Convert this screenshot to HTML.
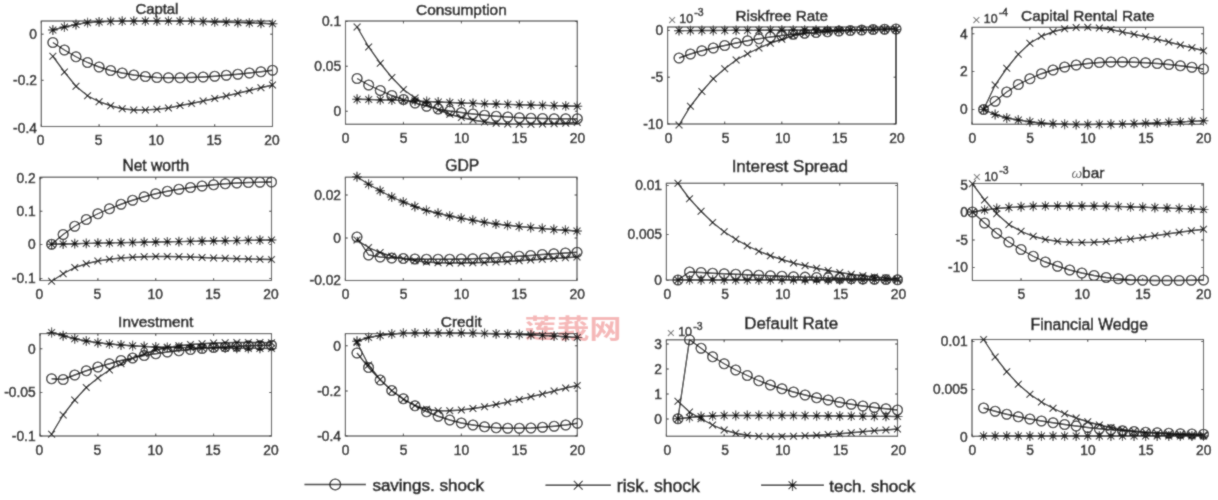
<!DOCTYPE html>
<html lang="en">
<head>
<meta charset="utf-8">
<title>Impulse responses</title>
<style>
html,body{margin:0;padding:0;background:#fff;}
body{width:1218px;height:500px;overflow:hidden;}
svg{display:block;font-family:"Liberation Sans","Noto Sans CJK SC",sans-serif;}
svg text{stroke:#1c1c1c;stroke-width:0.5px;}
svg text.tt{stroke-width:0.6px;}
svg text.lg{stroke-width:0.65px;}
svg text.wm{stroke:none;}
</style>
</head>
<body>
<svg width="1218" height="500" viewBox="0 0 1218 500">
<defs>
<g id="mo"><circle r="4.9" fill="none" stroke="#141414" stroke-width="1.3"/></g>
<g id="mx"><path d="M-3.4-3.4L3.4 3.4M-3.4 3.4L3.4-3.4" fill="none" stroke="#141414" stroke-width="1.2"/></g>
<g id="ms"><path d="M0-4.9V4.9M-4.9 0H4.9M-3.45 -3.45L3.45 3.45M-3.45 3.45L3.45 -3.45" fill="none" stroke="#141414" stroke-width="1.1"/></g>
<filter id="soft" x="0" y="0" width="1218" height="500" filterUnits="userSpaceOnUse"><feConvolveMatrix order="3" kernelMatrix="0.4 1 0.4 1 5.4 1 0.4 1 0.4" divisor="11" edgeMode="duplicate" preserveAlpha="true"/></filter>
<g id="mo2"><circle r="5.4" fill="none" stroke="#141414" stroke-width="1.3"/></g><g id="mx2"><path d="M-4.4-4.4L4.4 4.4M-4.4 4.4L4.4-4.4" fill="none" stroke="#141414" stroke-width="1.2"/></g><g id="ms2"><path d="M0-5.8V5.8M-5.4 0H5.4M-3.9-3.9L3.9 3.9M-3.9 3.9L3.9-3.9" fill="none" stroke="#141414" stroke-width="1.2"/></g></defs>
<g filter="url(#soft)">
<rect width="1218" height="500" fill="#fff"/>
<text class="wm" transform="translate(524.6 338.3) scale(1 0.84)" x="0" y="0" font-size="31.5" font-weight="700" fill="#ee8888" fill-opacity="0.6" font-family="'Liberation Sans','Noto Sans CJK SC',sans-serif" textLength="97" lengthAdjust="spacingAndGlyphs">莲莪网</text>
<g>
<text class="tt" x="156.9" y="13.7" font-size="14.9" text-anchor="middle" fill="#1c1c1c">Captal</text>
<path d="M52.86 42.5L64.42 50L75.98 56.75L87.54 62.5L99.1 67L110.66 70.5L122.22 73L133.78 75L145.34 76.5L156.9 77.5L168.46 77.75L180.02 77.75L191.58 77.5L203.14 77L214.7 76.25L226.26 75.25L237.82 74.25L249.38 73L260.94 71.75L272.5 70.25" fill="none" stroke="#141414" stroke-width="1.35"/>
<use href="#mo" x="52.86" y="42.5"/>
<use href="#mo" x="64.42" y="50"/>
<use href="#mo" x="75.98" y="56.75"/>
<use href="#mo" x="87.54" y="62.5"/>
<use href="#mo" x="99.1" y="67"/>
<use href="#mo" x="110.66" y="70.5"/>
<use href="#mo" x="122.22" y="73"/>
<use href="#mo" x="133.78" y="75"/>
<use href="#mo" x="145.34" y="76.5"/>
<use href="#mo" x="156.9" y="77.5"/>
<use href="#mo" x="168.46" y="77.75"/>
<use href="#mo" x="180.02" y="77.75"/>
<use href="#mo" x="191.58" y="77.5"/>
<use href="#mo" x="203.14" y="77"/>
<use href="#mo" x="214.7" y="76.25"/>
<use href="#mo" x="226.26" y="75.25"/>
<use href="#mo" x="237.82" y="74.25"/>
<use href="#mo" x="249.38" y="73"/>
<use href="#mo" x="260.94" y="71.75"/>
<use href="#mo" x="272.5" y="70.25"/>
<path d="M52.86 56.25L64.42 72L75.98 86.25L87.54 95.75L99.1 101.75L110.66 105.75L122.22 108.75L133.78 110L145.34 110L156.9 109.25L168.46 108L180.02 105.5L191.58 103.5L203.14 101L214.7 98.5L226.26 96L237.82 93.25L249.38 90.5L260.94 87.75L272.5 85" fill="none" stroke="#141414" stroke-width="1.35"/>
<use href="#mx" x="52.86" y="56.25"/>
<use href="#mx" x="64.42" y="72"/>
<use href="#mx" x="75.98" y="86.25"/>
<use href="#mx" x="87.54" y="95.75"/>
<use href="#mx" x="99.1" y="101.75"/>
<use href="#mx" x="110.66" y="105.75"/>
<use href="#mx" x="122.22" y="108.75"/>
<use href="#mx" x="133.78" y="110"/>
<use href="#mx" x="145.34" y="110"/>
<use href="#mx" x="156.9" y="109.25"/>
<use href="#mx" x="168.46" y="108"/>
<use href="#mx" x="180.02" y="105.5"/>
<use href="#mx" x="191.58" y="103.5"/>
<use href="#mx" x="203.14" y="101"/>
<use href="#mx" x="214.7" y="98.5"/>
<use href="#mx" x="226.26" y="96"/>
<use href="#mx" x="237.82" y="93.25"/>
<use href="#mx" x="249.38" y="90.5"/>
<use href="#mx" x="260.94" y="87.75"/>
<use href="#mx" x="272.5" y="85"/>
<path d="M52.86 30L64.42 27L75.98 24.5L87.54 22.7L99.1 21.9L110.66 21.45L122.22 21.2L133.78 21.1L145.34 21.03L156.9 21L168.46 21.03L180.02 21.1L191.58 21.28L203.14 21.57L214.7 21.9L226.26 22.22L237.82 22.56L249.38 22.93L260.94 23.33L272.5 23.75" fill="none" stroke="#141414" stroke-width="1.35"/>
<use href="#ms" x="52.86" y="30"/>
<use href="#ms" x="64.42" y="27"/>
<use href="#ms" x="75.98" y="24.5"/>
<use href="#ms" x="87.54" y="22.7"/>
<use href="#ms" x="99.1" y="21.9"/>
<use href="#ms" x="110.66" y="21.45"/>
<use href="#ms" x="122.22" y="21.2"/>
<use href="#ms" x="133.78" y="21.1"/>
<use href="#ms" x="145.34" y="21.03"/>
<use href="#ms" x="156.9" y="21"/>
<use href="#ms" x="168.46" y="21.03"/>
<use href="#ms" x="180.02" y="21.1"/>
<use href="#ms" x="191.58" y="21.28"/>
<use href="#ms" x="203.14" y="21.57"/>
<use href="#ms" x="214.7" y="21.9"/>
<use href="#ms" x="226.26" y="22.22"/>
<use href="#ms" x="237.82" y="22.56"/>
<use href="#ms" x="249.38" y="22.93"/>
<use href="#ms" x="260.94" y="23.33"/>
<use href="#ms" x="272.5" y="23.75"/>
<rect x="41.3" y="21" width="231.2" height="105.5" fill="none" stroke="#303030" stroke-width="1.1"/>
<text x="40.7" y="145.4" font-size="13.8" text-anchor="middle" fill="#1c1c1c">0</text>
<text x="98.5" y="145.4" font-size="13.8" text-anchor="middle" fill="#1c1c1c">5</text>
<text x="156.3" y="145.4" font-size="13.8" text-anchor="middle" fill="#1c1c1c">10</text>
<text x="214.1" y="145.4" font-size="13.8" text-anchor="middle" fill="#1c1c1c">15</text>
<text x="271.9" y="145.4" font-size="13.8" text-anchor="middle" fill="#1c1c1c">20</text>
<text x="36.9" y="39.15" font-size="13.8" text-anchor="end" fill="#1c1c1c">0</text>
<text x="36.9" y="85.25" font-size="13.8" text-anchor="end" fill="#1c1c1c">-0.2</text>
<text x="36.9" y="133.15" font-size="13.8" text-anchor="end" fill="#1c1c1c">-0.4</text>
<path d="M41.3 126.5v-2.4M41.3 21v2.4M99.1 126.5v-2.4M99.1 21v2.4M156.9 126.5v-2.4M156.9 21v2.4M214.7 126.5v-2.4M214.7 21v2.4M272.5 126.5v-2.4M272.5 21v2.4M41.3 34.2h2.4M272.5 34.2h-2.4M41.3 80.3h2.4M272.5 80.3h-2.4M41.3 126.5h2.4M272.5 126.5h-2.4" fill="none" stroke="#303030" stroke-width="1"/>
</g>
<g>
<text class="tt" x="461.4" y="14.5" font-size="15.4" text-anchor="middle" fill="#1c1c1c">Consumption</text>
<path d="M357.09 78.5L368.68 85L380.27 90.5L391.86 95.5L403.45 99.5L415.04 103L426.63 106.25L438.22 109L449.81 111L461.4 112.5L472.99 114L484.58 115.25L496.17 116.25L507.76 117L519.35 117.75L530.94 118.25L542.53 118.5L554.12 118.75L565.71 118.75L577.3 118.75" fill="none" stroke="#141414" stroke-width="1.35"/>
<use href="#mo" x="357.09" y="78.5"/>
<use href="#mo" x="368.68" y="85"/>
<use href="#mo" x="380.27" y="90.5"/>
<use href="#mo" x="391.86" y="95.5"/>
<use href="#mo" x="403.45" y="99.5"/>
<use href="#mo" x="415.04" y="103"/>
<use href="#mo" x="426.63" y="106.25"/>
<use href="#mo" x="438.22" y="109"/>
<use href="#mo" x="449.81" y="111"/>
<use href="#mo" x="461.4" y="112.5"/>
<use href="#mo" x="472.99" y="114"/>
<use href="#mo" x="484.58" y="115.25"/>
<use href="#mo" x="496.17" y="116.25"/>
<use href="#mo" x="507.76" y="117"/>
<use href="#mo" x="519.35" y="117.75"/>
<use href="#mo" x="530.94" y="118.25"/>
<use href="#mo" x="542.53" y="118.5"/>
<use href="#mo" x="554.12" y="118.75"/>
<use href="#mo" x="565.71" y="118.75"/>
<use href="#mo" x="577.3" y="118.75"/>
<path d="M357.09 27L368.68 47L380.27 63.25L391.86 77.5L403.45 89.5L415.04 98L426.63 104.5L438.22 110L449.81 114.25L461.4 117.5L472.99 120L484.58 122L496.17 123.25L507.76 124L519.35 124.25L530.94 124.25L542.53 124L554.12 123.75L565.71 123.25L577.3 122.5" fill="none" stroke="#141414" stroke-width="1.35"/>
<use href="#mx" x="357.09" y="27"/>
<use href="#mx" x="368.68" y="47"/>
<use href="#mx" x="380.27" y="63.25"/>
<use href="#mx" x="391.86" y="77.5"/>
<use href="#mx" x="403.45" y="89.5"/>
<use href="#mx" x="415.04" y="98"/>
<use href="#mx" x="426.63" y="104.5"/>
<use href="#mx" x="438.22" y="110"/>
<use href="#mx" x="449.81" y="114.25"/>
<use href="#mx" x="461.4" y="117.5"/>
<use href="#mx" x="472.99" y="120"/>
<use href="#mx" x="484.58" y="122"/>
<use href="#mx" x="496.17" y="123.25"/>
<use href="#mx" x="507.76" y="124"/>
<use href="#mx" x="519.35" y="124.25"/>
<use href="#mx" x="530.94" y="124.25"/>
<use href="#mx" x="542.53" y="124"/>
<use href="#mx" x="554.12" y="123.75"/>
<use href="#mx" x="565.71" y="123.25"/>
<use href="#mx" x="577.3" y="122.5"/>
<path d="M357.09 99.25L368.68 99.5L380.27 99.8L391.86 100.13L403.45 100.5L415.04 100.94L426.63 101.46L438.22 102.01L449.81 102.54L461.4 103L472.99 103.39L484.58 103.76L496.17 104.1L507.76 104.43L519.35 104.75L530.94 105.07L542.53 105.38L554.12 105.68L565.71 105.97L577.3 106.25" fill="none" stroke="#141414" stroke-width="1.35"/>
<use href="#ms" x="357.09" y="99.25"/>
<use href="#ms" x="368.68" y="99.5"/>
<use href="#ms" x="380.27" y="99.8"/>
<use href="#ms" x="391.86" y="100.13"/>
<use href="#ms" x="403.45" y="100.5"/>
<use href="#ms" x="415.04" y="100.94"/>
<use href="#ms" x="426.63" y="101.46"/>
<use href="#ms" x="438.22" y="102.01"/>
<use href="#ms" x="449.81" y="102.54"/>
<use href="#ms" x="461.4" y="103"/>
<use href="#ms" x="472.99" y="103.39"/>
<use href="#ms" x="484.58" y="103.76"/>
<use href="#ms" x="496.17" y="104.1"/>
<use href="#ms" x="507.76" y="104.43"/>
<use href="#ms" x="519.35" y="104.75"/>
<use href="#ms" x="530.94" y="105.07"/>
<use href="#ms" x="542.53" y="105.38"/>
<use href="#ms" x="554.12" y="105.68"/>
<use href="#ms" x="565.71" y="105.97"/>
<use href="#ms" x="577.3" y="106.25"/>
<rect x="345.5" y="21" width="231.8" height="103.25" fill="none" stroke="#303030" stroke-width="1.1"/>
<text x="345.7" y="143.15" font-size="13.8" text-anchor="middle" fill="#1c1c1c">0</text>
<text x="403.65" y="143.15" font-size="13.8" text-anchor="middle" fill="#1c1c1c">5</text>
<text x="461.6" y="143.15" font-size="13.8" text-anchor="middle" fill="#1c1c1c">10</text>
<text x="519.55" y="143.15" font-size="13.8" text-anchor="middle" fill="#1c1c1c">15</text>
<text x="577.5" y="143.15" font-size="13.8" text-anchor="middle" fill="#1c1c1c">20</text>
<text x="341.1" y="26.45" font-size="13.8" text-anchor="end" fill="#1c1c1c">0.1</text>
<text x="341.1" y="71.2" font-size="13.8" text-anchor="end" fill="#1c1c1c">0.05</text>
<text x="341.1" y="116.2" font-size="13.8" text-anchor="end" fill="#1c1c1c">0</text>
<path d="M345.5 124.25v-2.4M345.5 21v2.4M403.45 124.25v-2.4M403.45 21v2.4M461.4 124.25v-2.4M461.4 21v2.4M519.35 124.25v-2.4M519.35 21v2.4M577.3 124.25v-2.4M577.3 21v2.4M345.5 21.5h2.4M577.3 21.5h-2.4M345.5 66.25h2.4M577.3 66.25h-2.4M345.5 111.25h2.4M577.3 111.25h-2.4" fill="none" stroke="#303030" stroke-width="1"/>
</g>
<g>
<text class="tt" x="781.8" y="20.5" font-size="15.3" text-anchor="middle" fill="#1c1c1c">Riskfree Rate</text>
<path d="M679.02 58L690.44 54L701.86 50.75L713.28 48L724.7 45.5L736.12 43L747.54 40.75L758.96 38.75L770.38 37L781.8 35.5L793.22 34.25L804.64 33.25L816.06 32.5L827.48 31.75L838.9 31L850.32 30.5L861.74 30L873.16 29.5L884.58 29.25L896 29" fill="none" stroke="#141414" stroke-width="1.35"/>
<use href="#mo" x="679.02" y="58"/>
<use href="#mo" x="690.44" y="54"/>
<use href="#mo" x="701.86" y="50.75"/>
<use href="#mo" x="713.28" y="48"/>
<use href="#mo" x="724.7" y="45.5"/>
<use href="#mo" x="736.12" y="43"/>
<use href="#mo" x="747.54" y="40.75"/>
<use href="#mo" x="758.96" y="38.75"/>
<use href="#mo" x="770.38" y="37"/>
<use href="#mo" x="781.8" y="35.5"/>
<use href="#mo" x="793.22" y="34.25"/>
<use href="#mo" x="804.64" y="33.25"/>
<use href="#mo" x="816.06" y="32.5"/>
<use href="#mo" x="827.48" y="31.75"/>
<use href="#mo" x="838.9" y="31"/>
<use href="#mo" x="850.32" y="30.5"/>
<use href="#mo" x="861.74" y="30"/>
<use href="#mo" x="873.16" y="29.5"/>
<use href="#mo" x="884.58" y="29.25"/>
<use href="#mo" x="896" y="29"/>
<path d="M679.02 125L690.44 106.25L701.86 91.5L713.28 78.75L724.7 68.75L736.12 60L747.54 53.75L758.96 48L770.38 43.25L781.8 39.25L793.22 35.75L804.64 33.75L816.06 32.5L827.48 31.5L838.9 30.75L850.32 30.25L861.74 29.75L873.16 29.5L884.58 29.25L896 29" fill="none" stroke="#141414" stroke-width="1.35"/>
<use href="#mx" x="679.02" y="125"/>
<use href="#mx" x="690.44" y="106.25"/>
<use href="#mx" x="701.86" y="91.5"/>
<use href="#mx" x="713.28" y="78.75"/>
<use href="#mx" x="724.7" y="68.75"/>
<use href="#mx" x="736.12" y="60"/>
<use href="#mx" x="747.54" y="53.75"/>
<use href="#mx" x="758.96" y="48"/>
<use href="#mx" x="770.38" y="43.25"/>
<use href="#mx" x="781.8" y="39.25"/>
<use href="#mx" x="793.22" y="35.75"/>
<use href="#mx" x="804.64" y="33.75"/>
<use href="#mx" x="816.06" y="32.5"/>
<use href="#mx" x="827.48" y="31.5"/>
<use href="#mx" x="838.9" y="30.75"/>
<use href="#mx" x="850.32" y="30.25"/>
<use href="#mx" x="861.74" y="29.75"/>
<use href="#mx" x="873.16" y="29.5"/>
<use href="#mx" x="884.58" y="29.25"/>
<use href="#mx" x="896" y="29"/>
<path d="M679.02 30.6L690.44 30.56L701.86 30.52L713.28 30.48L724.7 30.44L736.12 30.39L747.54 30.35L758.96 30.3L770.38 30.25L781.8 30.2L793.22 30.15L804.64 30.09L816.06 30.04L827.48 29.98L838.9 29.92L850.32 29.86L861.74 29.8L873.16 29.73L884.58 29.67L896 29.6" fill="none" stroke="#141414" stroke-width="1.35"/>
<use href="#ms" x="679.02" y="30.6"/>
<use href="#ms" x="690.44" y="30.56"/>
<use href="#ms" x="701.86" y="30.52"/>
<use href="#ms" x="713.28" y="30.48"/>
<use href="#ms" x="724.7" y="30.44"/>
<use href="#ms" x="736.12" y="30.39"/>
<use href="#ms" x="747.54" y="30.35"/>
<use href="#ms" x="758.96" y="30.3"/>
<use href="#ms" x="770.38" y="30.25"/>
<use href="#ms" x="781.8" y="30.2"/>
<use href="#ms" x="793.22" y="30.15"/>
<use href="#ms" x="804.64" y="30.09"/>
<use href="#ms" x="816.06" y="30.04"/>
<use href="#ms" x="827.48" y="29.98"/>
<use href="#ms" x="838.9" y="29.92"/>
<use href="#ms" x="850.32" y="29.86"/>
<use href="#ms" x="861.74" y="29.8"/>
<use href="#ms" x="873.16" y="29.73"/>
<use href="#ms" x="884.58" y="29.67"/>
<use href="#ms" x="896" y="29.6"/>
<rect x="667.6" y="27" width="228.4" height="97" fill="none" stroke="#303030" stroke-width="1.1"/>
<path d="M896 30V124" fill="none" stroke="#141414" stroke-width="1.5"/>
<text x="668.5" y="142.9" font-size="13.8" text-anchor="middle" fill="#1c1c1c">0</text>
<text x="725.6" y="142.9" font-size="13.8" text-anchor="middle" fill="#1c1c1c">5</text>
<text x="782.7" y="142.9" font-size="13.8" text-anchor="middle" fill="#1c1c1c">10</text>
<text x="839.8" y="142.9" font-size="13.8" text-anchor="middle" fill="#1c1c1c">15</text>
<text x="896.9" y="142.9" font-size="13.8" text-anchor="middle" fill="#1c1c1c">20</text>
<text x="663.2" y="35.35" font-size="13.8" text-anchor="end" fill="#1c1c1c">0</text>
<text x="663.2" y="82.15" font-size="13.8" text-anchor="end" fill="#1c1c1c">-5</text>
<text x="663.2" y="128.95" font-size="13.8" text-anchor="end" fill="#1c1c1c">-10</text>
<path d="M667.6 124v-2.4M667.6 27v2.4M724.7 124v-2.4M724.7 27v2.4M781.8 124v-2.4M781.8 27v2.4M838.9 124v-2.4M838.9 27v2.4M896 124v-2.4M896 27v2.4M667.6 30.4h2.4M896 30.4h-2.4M667.6 77.2h2.4M896 77.2h-2.4M667.6 124h2.4M896 124h-2.4" fill="none" stroke="#303030" stroke-width="1"/>
<text x="667.7" y="23" font-size="12.4" fill="#1c1c1c"><tspan fill="#777" stroke="none" font-size="15" dy="1.6">×</tspan><tspan dx="2.9" dy="-1.6">10</tspan><tspan font-size="10.5" dy="-6.6" dx="1.2">-3</tspan></text>
</g>
<g>
<text class="tt" x="1087.75" y="20.5" font-size="15.4" text-anchor="middle" fill="#1c1c1c">Capital Rental Rate</text>
<path d="M983.58 109.5L995.15 101.25L1006.73 92L1018.3 84.5L1029.88 78.75L1041.45 73.75L1053.03 70L1064.6 67L1076.17 65L1087.75 63.5L1099.33 62.5L1110.9 62L1122.47 62L1134.05 62.25L1145.62 62.75L1157.2 63.5L1168.78 64.5L1180.35 65.75L1191.92 67.25L1203.5 69" fill="none" stroke="#141414" stroke-width="1.35"/>
<use href="#mo" x="983.58" y="109.5"/>
<use href="#mo" x="995.15" y="101.25"/>
<use href="#mo" x="1006.73" y="92"/>
<use href="#mo" x="1018.3" y="84.5"/>
<use href="#mo" x="1029.88" y="78.75"/>
<use href="#mo" x="1041.45" y="73.75"/>
<use href="#mo" x="1053.03" y="70"/>
<use href="#mo" x="1064.6" y="67"/>
<use href="#mo" x="1076.17" y="65"/>
<use href="#mo" x="1087.75" y="63.5"/>
<use href="#mo" x="1099.33" y="62.5"/>
<use href="#mo" x="1110.9" y="62"/>
<use href="#mo" x="1122.47" y="62"/>
<use href="#mo" x="1134.05" y="62.25"/>
<use href="#mo" x="1145.62" y="62.75"/>
<use href="#mo" x="1157.2" y="63.5"/>
<use href="#mo" x="1168.78" y="64.5"/>
<use href="#mo" x="1180.35" y="65.75"/>
<use href="#mo" x="1191.92" y="67.25"/>
<use href="#mo" x="1203.5" y="69"/>
<path d="M983.58 109.5L995.15 85L1006.73 68.25L1018.3 54.25L1029.88 43.25L1041.45 36.25L1053.03 31.75L1064.6 28.75L1076.17 27.5L1087.75 27.25L1099.33 28L1110.9 29.5L1122.47 32L1134.05 34.25L1145.62 36.75L1157.2 39.25L1168.78 42L1180.35 45L1191.92 47.75L1203.5 50.75" fill="none" stroke="#141414" stroke-width="1.35"/>
<use href="#mx" x="983.58" y="109.5"/>
<use href="#mx" x="995.15" y="85"/>
<use href="#mx" x="1006.73" y="68.25"/>
<use href="#mx" x="1018.3" y="54.25"/>
<use href="#mx" x="1029.88" y="43.25"/>
<use href="#mx" x="1041.45" y="36.25"/>
<use href="#mx" x="1053.03" y="31.75"/>
<use href="#mx" x="1064.6" y="28.75"/>
<use href="#mx" x="1076.17" y="27.5"/>
<use href="#mx" x="1087.75" y="27.25"/>
<use href="#mx" x="1099.33" y="28"/>
<use href="#mx" x="1110.9" y="29.5"/>
<use href="#mx" x="1122.47" y="32"/>
<use href="#mx" x="1134.05" y="34.25"/>
<use href="#mx" x="1145.62" y="36.75"/>
<use href="#mx" x="1157.2" y="39.25"/>
<use href="#mx" x="1168.78" y="42"/>
<use href="#mx" x="1180.35" y="45"/>
<use href="#mx" x="1191.92" y="47.75"/>
<use href="#mx" x="1203.5" y="50.75"/>
<path d="M983.58 109.5L995.15 114.5L1006.73 118L1018.3 120L1029.88 121.75L1041.45 123L1053.03 123.75L1064.6 124.25L1076.17 124.5L1087.75 124.5L1099.33 124.42L1110.9 124.25L1122.47 124L1134.05 123.64L1145.62 123.25L1157.2 122.83L1168.78 122.38L1180.35 121.88L1191.92 121.33L1203.5 120.75" fill="none" stroke="#141414" stroke-width="1.35"/>
<use href="#ms" x="983.58" y="109.5"/>
<use href="#ms" x="995.15" y="114.5"/>
<use href="#ms" x="1006.73" y="118"/>
<use href="#ms" x="1018.3" y="120"/>
<use href="#ms" x="1029.88" y="121.75"/>
<use href="#ms" x="1041.45" y="123"/>
<use href="#ms" x="1053.03" y="123.75"/>
<use href="#ms" x="1064.6" y="124.25"/>
<use href="#ms" x="1076.17" y="124.5"/>
<use href="#ms" x="1087.75" y="124.5"/>
<use href="#ms" x="1099.33" y="124.42"/>
<use href="#ms" x="1110.9" y="124.25"/>
<use href="#ms" x="1122.47" y="124"/>
<use href="#ms" x="1134.05" y="123.64"/>
<use href="#ms" x="1145.62" y="123.25"/>
<use href="#ms" x="1157.2" y="122.83"/>
<use href="#ms" x="1168.78" y="122.38"/>
<use href="#ms" x="1180.35" y="121.88"/>
<use href="#ms" x="1191.92" y="121.33"/>
<use href="#ms" x="1203.5" y="120.75"/>
<rect x="972" y="27.3" width="231.5" height="96.95" fill="none" stroke="#303030" stroke-width="1.1"/>
<text x="972.3" y="143.15" font-size="13.8" text-anchor="middle" fill="#1c1c1c">0</text>
<text x="1030.17" y="143.15" font-size="13.8" text-anchor="middle" fill="#1c1c1c">5</text>
<text x="1088.05" y="143.15" font-size="13.8" text-anchor="middle" fill="#1c1c1c">10</text>
<text x="1145.92" y="143.15" font-size="13.8" text-anchor="middle" fill="#1c1c1c">15</text>
<text x="1203.8" y="143.15" font-size="13.8" text-anchor="middle" fill="#1c1c1c">20</text>
<text x="967.6" y="38.7" font-size="13.8" text-anchor="end" fill="#1c1c1c">4</text>
<text x="967.6" y="76.45" font-size="13.8" text-anchor="end" fill="#1c1c1c">2</text>
<text x="967.6" y="114.45" font-size="13.8" text-anchor="end" fill="#1c1c1c">0</text>
<path d="M972 124.25v-2.4M972 27.3v2.4M1029.88 124.25v-2.4M1029.88 27.3v2.4M1087.75 124.25v-2.4M1087.75 27.3v2.4M1145.62 124.25v-2.4M1145.62 27.3v2.4M1203.5 124.25v-2.4M1203.5 27.3v2.4M972 33.75h2.4M1203.5 33.75h-2.4M972 71.5h2.4M1203.5 71.5h-2.4M972 109.5h2.4M1203.5 109.5h-2.4" fill="none" stroke="#303030" stroke-width="1"/>
<text x="972.1" y="23" font-size="12.4" fill="#1c1c1c"><tspan fill="#777" stroke="none" font-size="15" dy="1.6">×</tspan><tspan dx="2.9" dy="-1.6">10</tspan><tspan font-size="10.5" dy="-6.6" dx="1.2">-4</tspan></text>
</g>
<g>
<text class="tt" x="155.75" y="170.5" font-size="15.6" text-anchor="middle" fill="#1c1c1c">Net worth</text>
<path d="M51.58 244.25L63.15 234.5L74.72 226.25L86.3 219.5L97.88 213.75L109.45 208.75L121.02 204.25L132.6 200.25L144.18 196.75L155.75 193.75L167.33 191.25L178.9 189.25L190.47 187.5L202.05 186L213.62 184.75L225.2 183.75L236.78 183L248.35 182.5L259.92 182.25L271.5 182" fill="none" stroke="#141414" stroke-width="1.35"/>
<use href="#mo" x="51.58" y="244.25"/>
<use href="#mo" x="63.15" y="234.5"/>
<use href="#mo" x="74.72" y="226.25"/>
<use href="#mo" x="86.3" y="219.5"/>
<use href="#mo" x="97.88" y="213.75"/>
<use href="#mo" x="109.45" y="208.75"/>
<use href="#mo" x="121.02" y="204.25"/>
<use href="#mo" x="132.6" y="200.25"/>
<use href="#mo" x="144.18" y="196.75"/>
<use href="#mo" x="155.75" y="193.75"/>
<use href="#mo" x="167.33" y="191.25"/>
<use href="#mo" x="178.9" y="189.25"/>
<use href="#mo" x="190.47" y="187.5"/>
<use href="#mo" x="202.05" y="186"/>
<use href="#mo" x="213.62" y="184.75"/>
<use href="#mo" x="225.2" y="183.75"/>
<use href="#mo" x="236.78" y="183"/>
<use href="#mo" x="248.35" y="182.5"/>
<use href="#mo" x="259.92" y="182.25"/>
<use href="#mo" x="271.5" y="182"/>
<path d="M51.58 281.25L63.15 273.75L74.72 267.5L86.3 263.75L97.88 261L109.45 259.25L121.02 258L132.6 257.25L144.18 256.75L155.75 256.5L167.33 256.5L178.9 256.75L190.47 257L202.05 257.5L213.62 258L225.2 258.25L236.78 258.75L248.35 259L259.92 259.25L271.5 259.5" fill="none" stroke="#141414" stroke-width="1.35"/>
<use href="#mx" x="51.58" y="281.25"/>
<use href="#mx" x="63.15" y="273.75"/>
<use href="#mx" x="74.72" y="267.5"/>
<use href="#mx" x="86.3" y="263.75"/>
<use href="#mx" x="97.88" y="261"/>
<use href="#mx" x="109.45" y="259.25"/>
<use href="#mx" x="121.02" y="258"/>
<use href="#mx" x="132.6" y="257.25"/>
<use href="#mx" x="144.18" y="256.75"/>
<use href="#mx" x="155.75" y="256.5"/>
<use href="#mx" x="167.33" y="256.5"/>
<use href="#mx" x="178.9" y="256.75"/>
<use href="#mx" x="190.47" y="257"/>
<use href="#mx" x="202.05" y="257.5"/>
<use href="#mx" x="213.62" y="258"/>
<use href="#mx" x="225.2" y="258.25"/>
<use href="#mx" x="236.78" y="258.75"/>
<use href="#mx" x="248.35" y="259"/>
<use href="#mx" x="259.92" y="259.25"/>
<use href="#mx" x="271.5" y="259.5"/>
<path d="M51.58 244.25L63.15 243.98L74.72 243.71L86.3 243.45L97.88 243.19L109.45 242.94L121.02 242.7L132.6 242.46L144.18 242.23L155.75 242L167.33 241.78L178.9 241.56L190.47 241.35L202.05 241.14L213.62 240.94L225.2 240.74L236.78 240.55L248.35 240.36L259.92 240.18L271.5 240" fill="none" stroke="#141414" stroke-width="1.35"/>
<use href="#ms" x="51.58" y="244.25"/>
<use href="#ms" x="63.15" y="243.98"/>
<use href="#ms" x="74.72" y="243.71"/>
<use href="#ms" x="86.3" y="243.45"/>
<use href="#ms" x="97.88" y="243.19"/>
<use href="#ms" x="109.45" y="242.94"/>
<use href="#ms" x="121.02" y="242.7"/>
<use href="#ms" x="132.6" y="242.46"/>
<use href="#ms" x="144.18" y="242.23"/>
<use href="#ms" x="155.75" y="242"/>
<use href="#ms" x="167.33" y="241.78"/>
<use href="#ms" x="178.9" y="241.56"/>
<use href="#ms" x="190.47" y="241.35"/>
<use href="#ms" x="202.05" y="241.14"/>
<use href="#ms" x="213.62" y="240.94"/>
<use href="#ms" x="225.2" y="240.74"/>
<use href="#ms" x="236.78" y="240.55"/>
<use href="#ms" x="248.35" y="240.36"/>
<use href="#ms" x="259.92" y="240.18"/>
<use href="#ms" x="271.5" y="240"/>
<rect x="40" y="177.2" width="231.5" height="103.3" fill="none" stroke="#303030" stroke-width="1.1"/>
<text x="39.4" y="299.4" font-size="13.8" text-anchor="middle" fill="#1c1c1c">0</text>
<text x="97.28" y="299.4" font-size="13.8" text-anchor="middle" fill="#1c1c1c">5</text>
<text x="155.15" y="299.4" font-size="13.8" text-anchor="middle" fill="#1c1c1c">10</text>
<text x="213.03" y="299.4" font-size="13.8" text-anchor="middle" fill="#1c1c1c">15</text>
<text x="270.9" y="299.4" font-size="13.8" text-anchor="middle" fill="#1c1c1c">20</text>
<text x="35.6" y="182.95" font-size="13.8" text-anchor="end" fill="#1c1c1c">0.2</text>
<text x="35.6" y="216.2" font-size="13.8" text-anchor="end" fill="#1c1c1c">0.1</text>
<text x="35.6" y="249.45" font-size="13.8" text-anchor="end" fill="#1c1c1c">0</text>
<text x="35.6" y="283.45" font-size="13.8" text-anchor="end" fill="#1c1c1c">-0.1</text>
<path d="M40 280.5v-2.4M40 177.2v2.4M97.88 280.5v-2.4M97.88 177.2v2.4M155.75 280.5v-2.4M155.75 177.2v2.4M213.62 280.5v-2.4M213.62 177.2v2.4M271.5 280.5v-2.4M271.5 177.2v2.4M40 178h2.4M271.5 178h-2.4M40 211.25h2.4M271.5 211.25h-2.4M40 244.5h2.4M271.5 244.5h-2.4M40 278.5h2.4M271.5 278.5h-2.4" fill="none" stroke="#303030" stroke-width="1"/>
</g>
<g>
<text class="tt" x="462.2" y="170.5" font-size="15.7" text-anchor="middle" fill="#1c1c1c">GDP</text>
<path d="M356.98 237L368.56 255L380.14 257L391.72 258L403.3 258.5L414.88 259L426.46 259.25L438.04 259.25L449.62 259.25L461.2 259L472.78 258.75L484.36 258.25L495.94 257.75L507.52 257L519.1 256.25L530.68 255.5L542.26 254.5L553.84 253.75L565.42 253L577 252.25" fill="none" stroke="#141414" stroke-width="1.35"/>
<use href="#mo" x="356.98" y="237"/>
<use href="#mo" x="368.56" y="255"/>
<use href="#mo" x="380.14" y="257"/>
<use href="#mo" x="391.72" y="258"/>
<use href="#mo" x="403.3" y="258.5"/>
<use href="#mo" x="414.88" y="259"/>
<use href="#mo" x="426.46" y="259.25"/>
<use href="#mo" x="438.04" y="259.25"/>
<use href="#mo" x="449.62" y="259.25"/>
<use href="#mo" x="461.2" y="259"/>
<use href="#mo" x="472.78" y="258.75"/>
<use href="#mo" x="484.36" y="258.25"/>
<use href="#mo" x="495.94" y="257.75"/>
<use href="#mo" x="507.52" y="257"/>
<use href="#mo" x="519.1" y="256.25"/>
<use href="#mo" x="530.68" y="255.5"/>
<use href="#mo" x="542.26" y="254.5"/>
<use href="#mo" x="553.84" y="253.75"/>
<use href="#mo" x="565.42" y="253"/>
<use href="#mo" x="577" y="252.25"/>
<path d="M356.98 240L368.56 247.5L380.14 252.5L391.72 256.25L403.3 258.75L414.88 260.75L426.46 262L438.04 262.75L449.62 263L461.2 263L472.78 262.75L484.36 262.5L495.94 262L507.52 261.5L519.1 260.75L530.68 260L542.26 259.25L553.84 258.5L565.42 257.75L577 257" fill="none" stroke="#141414" stroke-width="1.35"/>
<use href="#mx" x="356.98" y="240"/>
<use href="#mx" x="368.56" y="247.5"/>
<use href="#mx" x="380.14" y="252.5"/>
<use href="#mx" x="391.72" y="256.25"/>
<use href="#mx" x="403.3" y="258.75"/>
<use href="#mx" x="414.88" y="260.75"/>
<use href="#mx" x="426.46" y="262"/>
<use href="#mx" x="438.04" y="262.75"/>
<use href="#mx" x="449.62" y="263"/>
<use href="#mx" x="461.2" y="263"/>
<use href="#mx" x="472.78" y="262.75"/>
<use href="#mx" x="484.36" y="262.5"/>
<use href="#mx" x="495.94" y="262"/>
<use href="#mx" x="507.52" y="261.5"/>
<use href="#mx" x="519.1" y="260.75"/>
<use href="#mx" x="530.68" y="260"/>
<use href="#mx" x="542.26" y="259.25"/>
<use href="#mx" x="553.84" y="258.5"/>
<use href="#mx" x="565.42" y="257.75"/>
<use href="#mx" x="577" y="257"/>
<path d="M356.98 176.75L368.56 184.25L380.14 190.75L391.72 197L403.3 202L414.88 206.5L426.46 210.5L438.04 213.25L449.62 216L461.2 218.25L472.78 220.25L484.36 222.25L495.94 224L507.52 225.25L519.1 226.5L530.68 227.5L542.26 228.5L553.84 229.5L565.42 230.25L577 231" fill="none" stroke="#141414" stroke-width="1.35"/>
<use href="#ms" x="356.98" y="176.75"/>
<use href="#ms" x="368.56" y="184.25"/>
<use href="#ms" x="380.14" y="190.75"/>
<use href="#ms" x="391.72" y="197"/>
<use href="#ms" x="403.3" y="202"/>
<use href="#ms" x="414.88" y="206.5"/>
<use href="#ms" x="426.46" y="210.5"/>
<use href="#ms" x="438.04" y="213.25"/>
<use href="#ms" x="449.62" y="216"/>
<use href="#ms" x="461.2" y="218.25"/>
<use href="#ms" x="472.78" y="220.25"/>
<use href="#ms" x="484.36" y="222.25"/>
<use href="#ms" x="495.94" y="224"/>
<use href="#ms" x="507.52" y="225.25"/>
<use href="#ms" x="519.1" y="226.5"/>
<use href="#ms" x="530.68" y="227.5"/>
<use href="#ms" x="542.26" y="228.5"/>
<use href="#ms" x="553.84" y="229.5"/>
<use href="#ms" x="565.42" y="230.25"/>
<use href="#ms" x="577" y="231"/>
<rect x="345.4" y="177.2" width="231.6" height="103.3" fill="none" stroke="#303030" stroke-width="1.1"/>
<text x="345.6" y="299.4" font-size="13.8" text-anchor="middle" fill="#1c1c1c">0</text>
<text x="403.5" y="299.4" font-size="13.8" text-anchor="middle" fill="#1c1c1c">5</text>
<text x="461.4" y="299.4" font-size="13.8" text-anchor="middle" fill="#1c1c1c">10</text>
<text x="519.3" y="299.4" font-size="13.8" text-anchor="middle" fill="#1c1c1c">15</text>
<text x="577.2" y="299.4" font-size="13.8" text-anchor="middle" fill="#1c1c1c">20</text>
<text x="341" y="199.95" font-size="13.8" text-anchor="end" fill="#1c1c1c">0.02</text>
<text x="341" y="242.95" font-size="13.8" text-anchor="end" fill="#1c1c1c">0</text>
<text x="341" y="285.45" font-size="13.8" text-anchor="end" fill="#1c1c1c">-0.02</text>
<path d="M345.4 280.5v-2.4M345.4 177.2v2.4M403.3 280.5v-2.4M403.3 177.2v2.4M461.2 280.5v-2.4M461.2 177.2v2.4M519.1 280.5v-2.4M519.1 177.2v2.4M577 280.5v-2.4M577 177.2v2.4M345.4 195h2.4M577 195h-2.4M345.4 238h2.4M577 238h-2.4M345.4 280.5h2.4M577 280.5h-2.4" fill="none" stroke="#303030" stroke-width="1"/>
</g>
<g>
<text class="tt" x="789.75" y="172.2" font-size="17" text-anchor="middle" fill="#1c1c1c">Interest Spread</text>
<path d="M677.95 280L689.51 272L701.06 272.5L712.62 273.25L724.17 273.75L735.73 274.25L747.28 274.75L758.84 275.25L770.39 275.75L781.95 276.25L793.5 276.75L805.06 277.14L816.62 277.5L828.17 277.88L839.73 278.25L851.28 278.64L862.84 279L874.39 279.29L885.94 279.55L897.5 279.75" fill="none" stroke="#141414" stroke-width="1.35"/>
<use href="#mo" x="677.95" y="280"/>
<use href="#mo" x="689.51" y="272"/>
<use href="#mo" x="701.06" y="272.5"/>
<use href="#mo" x="712.62" y="273.25"/>
<use href="#mo" x="724.17" y="273.75"/>
<use href="#mo" x="735.73" y="274.25"/>
<use href="#mo" x="747.28" y="274.75"/>
<use href="#mo" x="758.84" y="275.25"/>
<use href="#mo" x="770.39" y="275.75"/>
<use href="#mo" x="781.95" y="276.25"/>
<use href="#mo" x="793.5" y="276.75"/>
<use href="#mo" x="805.06" y="277.14"/>
<use href="#mo" x="816.62" y="277.5"/>
<use href="#mo" x="828.17" y="277.88"/>
<use href="#mo" x="839.73" y="278.25"/>
<use href="#mo" x="851.28" y="278.64"/>
<use href="#mo" x="862.84" y="279"/>
<use href="#mo" x="874.39" y="279.29"/>
<use href="#mo" x="885.94" y="279.55"/>
<use href="#mo" x="897.5" y="279.75"/>
<path d="M677.95 183.25L689.51 198.75L701.06 211.25L712.62 222.5L724.17 231.75L735.73 239.25L747.28 245.75L758.84 251.25L770.39 255.75L781.95 259.5L793.5 263L805.06 265.75L816.62 268.25L828.17 270.5L839.73 272.5L851.28 274.25L862.84 275.75L874.39 277L885.94 278L897.5 279" fill="none" stroke="#141414" stroke-width="1.35"/>
<use href="#mx" x="677.95" y="183.25"/>
<use href="#mx" x="689.51" y="198.75"/>
<use href="#mx" x="701.06" y="211.25"/>
<use href="#mx" x="712.62" y="222.5"/>
<use href="#mx" x="724.17" y="231.75"/>
<use href="#mx" x="735.73" y="239.25"/>
<use href="#mx" x="747.28" y="245.75"/>
<use href="#mx" x="758.84" y="251.25"/>
<use href="#mx" x="770.39" y="255.75"/>
<use href="#mx" x="781.95" y="259.5"/>
<use href="#mx" x="793.5" y="263"/>
<use href="#mx" x="805.06" y="265.75"/>
<use href="#mx" x="816.62" y="268.25"/>
<use href="#mx" x="828.17" y="270.5"/>
<use href="#mx" x="839.73" y="272.5"/>
<use href="#mx" x="851.28" y="274.25"/>
<use href="#mx" x="862.84" y="275.75"/>
<use href="#mx" x="874.39" y="277"/>
<use href="#mx" x="885.94" y="278"/>
<use href="#mx" x="897.5" y="279"/>
<path d="M677.95 280L689.51 280L701.06 280L712.62 280L724.17 280L735.73 280L747.28 280L758.84 280L770.39 280L781.95 280L793.5 280L805.06 280L816.62 280L828.17 280L839.73 280L851.28 280L862.84 280L874.39 280L885.94 280L897.5 280" fill="none" stroke="#141414" stroke-width="1.35"/>
<use href="#ms" x="677.95" y="280"/>
<use href="#ms" x="689.51" y="280"/>
<use href="#ms" x="701.06" y="280"/>
<use href="#ms" x="712.62" y="280"/>
<use href="#ms" x="724.17" y="280"/>
<use href="#ms" x="735.73" y="280"/>
<use href="#ms" x="747.28" y="280"/>
<use href="#ms" x="758.84" y="280"/>
<use href="#ms" x="770.39" y="280"/>
<use href="#ms" x="781.95" y="280"/>
<use href="#ms" x="793.5" y="280"/>
<use href="#ms" x="805.06" y="280"/>
<use href="#ms" x="816.62" y="280"/>
<use href="#ms" x="828.17" y="280"/>
<use href="#ms" x="839.73" y="280"/>
<use href="#ms" x="851.28" y="280"/>
<use href="#ms" x="862.84" y="280"/>
<use href="#ms" x="874.39" y="280"/>
<use href="#ms" x="885.94" y="280"/>
<use href="#ms" x="897.5" y="280"/>
<rect x="666.4" y="183.25" width="231.1" height="96.75" fill="none" stroke="#303030" stroke-width="1.1"/>
<text x="667.3" y="298.9" font-size="13.8" text-anchor="middle" fill="#1c1c1c">0</text>
<text x="725.07" y="298.9" font-size="13.8" text-anchor="middle" fill="#1c1c1c">5</text>
<text x="782.85" y="298.9" font-size="13.8" text-anchor="middle" fill="#1c1c1c">10</text>
<text x="840.62" y="298.9" font-size="13.8" text-anchor="middle" fill="#1c1c1c">15</text>
<text x="898.4" y="298.9" font-size="13.8" text-anchor="middle" fill="#1c1c1c">20</text>
<text x="662" y="190.45" font-size="13.8" text-anchor="end" fill="#1c1c1c">0.01</text>
<text x="662" y="239.45" font-size="13.8" text-anchor="end" fill="#1c1c1c">0.005</text>
<text x="662" y="285.45" font-size="13.8" text-anchor="end" fill="#1c1c1c">0</text>
<path d="M666.4 280v-2.4M666.4 183.25v2.4M724.17 280v-2.4M724.17 183.25v2.4M781.95 280v-2.4M781.95 183.25v2.4M839.73 280v-2.4M839.73 183.25v2.4M897.5 280v-2.4M897.5 183.25v2.4M666.4 185.5h2.4M897.5 185.5h-2.4M666.4 234.5h2.4M897.5 234.5h-2.4M666.4 280.5h2.4M897.5 280.5h-2.4" fill="none" stroke="#303030" stroke-width="1"/>
</g>
<g>
<text class="tt" x="1087.95" y="177.5" font-size="15.4" text-anchor="middle" fill="#1c1c1c"><tspan font-size="13.5" fill="#555" stroke="none" font-style="italic">ω</tspan>bar</text>
<path d="M972.4 212L984.56 223L996.73 233.25L1008.89 242L1021.05 249.5L1033.22 256.25L1045.38 262L1057.54 266.25L1069.71 270L1081.87 273L1094.03 275.5L1106.19 277.5L1118.36 278.75L1130.52 279.75L1142.68 280.25L1154.85 280.5L1167.01 280.5L1179.17 280.5L1191.34 280.25L1203.5 280" fill="none" stroke="#141414" stroke-width="1.35"/>
<use href="#mo" x="972.4" y="212"/>
<use href="#mo" x="984.56" y="223"/>
<use href="#mo" x="996.73" y="233.25"/>
<use href="#mo" x="1008.89" y="242"/>
<use href="#mo" x="1021.05" y="249.5"/>
<use href="#mo" x="1033.22" y="256.25"/>
<use href="#mo" x="1045.38" y="262"/>
<use href="#mo" x="1057.54" y="266.25"/>
<use href="#mo" x="1069.71" y="270"/>
<use href="#mo" x="1081.87" y="273"/>
<use href="#mo" x="1094.03" y="275.5"/>
<use href="#mo" x="1106.19" y="277.5"/>
<use href="#mo" x="1118.36" y="278.75"/>
<use href="#mo" x="1130.52" y="279.75"/>
<use href="#mo" x="1142.68" y="280.25"/>
<use href="#mo" x="1154.85" y="280.5"/>
<use href="#mo" x="1167.01" y="280.5"/>
<use href="#mo" x="1179.17" y="280.5"/>
<use href="#mo" x="1191.34" y="280.25"/>
<use href="#mo" x="1203.5" y="280"/>
<path d="M972.4 183.75L984.56 200L996.73 213.75L1008.89 224.5L1021.05 231.25L1033.22 236.25L1045.38 239.5L1057.54 241.25L1069.71 242.25L1081.87 242.5L1094.03 242.25L1106.19 241.5L1118.36 240.25L1130.52 239L1142.68 237.5L1154.85 235.75L1167.01 234L1179.17 232.25L1191.34 230.75L1203.5 229.25" fill="none" stroke="#141414" stroke-width="1.35"/>
<use href="#mx" x="972.4" y="183.75"/>
<use href="#mx" x="984.56" y="200"/>
<use href="#mx" x="996.73" y="213.75"/>
<use href="#mx" x="1008.89" y="224.5"/>
<use href="#mx" x="1021.05" y="231.25"/>
<use href="#mx" x="1033.22" y="236.25"/>
<use href="#mx" x="1045.38" y="239.5"/>
<use href="#mx" x="1057.54" y="241.25"/>
<use href="#mx" x="1069.71" y="242.25"/>
<use href="#mx" x="1081.87" y="242.5"/>
<use href="#mx" x="1094.03" y="242.25"/>
<use href="#mx" x="1106.19" y="241.5"/>
<use href="#mx" x="1118.36" y="240.25"/>
<use href="#mx" x="1130.52" y="239"/>
<use href="#mx" x="1142.68" y="237.5"/>
<use href="#mx" x="1154.85" y="235.75"/>
<use href="#mx" x="1167.01" y="234"/>
<use href="#mx" x="1179.17" y="232.25"/>
<use href="#mx" x="1191.34" y="230.75"/>
<use href="#mx" x="1203.5" y="229.25"/>
<path d="M972.4 212L984.56 210L996.73 208.5L1008.89 207.5L1021.05 206.75L1033.22 206.25L1045.38 206L1057.54 206L1069.71 206L1081.87 206L1094.03 206.08L1106.19 206.25L1118.36 206.5L1130.52 206.86L1142.68 207.25L1154.85 207.64L1167.01 208.06L1179.17 208.51L1191.34 208.99L1203.5 209.5" fill="none" stroke="#141414" stroke-width="1.35"/>
<use href="#ms" x="972.4" y="212"/>
<use href="#ms" x="984.56" y="210"/>
<use href="#ms" x="996.73" y="208.5"/>
<use href="#ms" x="1008.89" y="207.5"/>
<use href="#ms" x="1021.05" y="206.75"/>
<use href="#ms" x="1033.22" y="206.25"/>
<use href="#ms" x="1045.38" y="206"/>
<use href="#ms" x="1057.54" y="206"/>
<use href="#ms" x="1069.71" y="206"/>
<use href="#ms" x="1081.87" y="206"/>
<use href="#ms" x="1094.03" y="206.08"/>
<use href="#ms" x="1106.19" y="206.25"/>
<use href="#ms" x="1118.36" y="206.5"/>
<use href="#ms" x="1130.52" y="206.86"/>
<use href="#ms" x="1142.68" y="207.25"/>
<use href="#ms" x="1154.85" y="207.64"/>
<use href="#ms" x="1167.01" y="208.06"/>
<use href="#ms" x="1179.17" y="208.51"/>
<use href="#ms" x="1191.34" y="208.99"/>
<use href="#ms" x="1203.5" y="209.5"/>
<rect x="972.4" y="183.5" width="231.1" height="97" fill="none" stroke="#303030" stroke-width="1.1"/>
<text x="1021.35" y="299.4" font-size="13.8" text-anchor="middle" fill="#1c1c1c">5</text>
<text x="1082.17" y="299.4" font-size="13.8" text-anchor="middle" fill="#1c1c1c">10</text>
<text x="1142.98" y="299.4" font-size="13.8" text-anchor="middle" fill="#1c1c1c">15</text>
<text x="1203.8" y="299.4" font-size="13.8" text-anchor="middle" fill="#1c1c1c">20</text>
<text x="968" y="189.95" font-size="13.8" text-anchor="end" fill="#1c1c1c">5</text>
<text x="968" y="217.45" font-size="13.8" text-anchor="end" fill="#1c1c1c">0</text>
<text x="968" y="244.95" font-size="13.8" text-anchor="end" fill="#1c1c1c">-5</text>
<text x="968" y="272.45" font-size="13.8" text-anchor="end" fill="#1c1c1c">-10</text>
<path d="M1021.05 280.5v-2.4M1021.05 183.5v2.4M1081.87 280.5v-2.4M1081.87 183.5v2.4M1142.68 280.5v-2.4M1142.68 183.5v2.4M1203.5 280.5v-2.4M1203.5 183.5v2.4M972.4 185h2.4M1203.5 185h-2.4M972.4 212.5h2.4M1203.5 212.5h-2.4M972.4 240h2.4M1203.5 240h-2.4M972.4 267.5h2.4M1203.5 267.5h-2.4" fill="none" stroke="#303030" stroke-width="1"/>
<text x="972.5" y="180.5" font-size="12.4" fill="#1c1c1c"><tspan fill="#777" stroke="none" font-size="15" dy="1.6">×</tspan><tspan dx="2.9" dy="-1.6">10</tspan><tspan font-size="10.5" dy="-6.6" dx="1.2">-3</tspan></text>
</g>
<g>
<text class="tt" x="155.75" y="327" font-size="15.4" text-anchor="middle" fill="#1c1c1c">Investment</text>
<path d="M51.58 378.75L63.15 379.5L74.72 375L86.3 370.75L97.88 367L109.45 363.75L121.02 360.5L132.6 358L144.18 355.5L155.75 353.75L167.33 352L178.9 350.75L190.47 349.5L202.05 348.5L213.62 347.5L225.2 346.75L236.78 346.25L248.35 345.75L259.92 345.5L271.5 345.25" fill="none" stroke="#141414" stroke-width="1.35"/>
<use href="#mo" x="51.58" y="378.75"/>
<use href="#mo" x="63.15" y="379.5"/>
<use href="#mo" x="74.72" y="375"/>
<use href="#mo" x="86.3" y="370.75"/>
<use href="#mo" x="97.88" y="367"/>
<use href="#mo" x="109.45" y="363.75"/>
<use href="#mo" x="121.02" y="360.5"/>
<use href="#mo" x="132.6" y="358"/>
<use href="#mo" x="144.18" y="355.5"/>
<use href="#mo" x="155.75" y="353.75"/>
<use href="#mo" x="167.33" y="352"/>
<use href="#mo" x="178.9" y="350.75"/>
<use href="#mo" x="190.47" y="349.5"/>
<use href="#mo" x="202.05" y="348.5"/>
<use href="#mo" x="213.62" y="347.5"/>
<use href="#mo" x="225.2" y="346.75"/>
<use href="#mo" x="236.78" y="346.25"/>
<use href="#mo" x="248.35" y="345.75"/>
<use href="#mo" x="259.92" y="345.5"/>
<use href="#mo" x="271.5" y="345.25"/>
<path d="M51.58 434.25L63.15 415L74.72 400L86.3 387.5L97.88 378L109.45 370L121.02 363.75L132.6 358.25L144.18 353.75L155.75 350L167.33 347.5L178.9 345.75L190.47 344.5L202.05 343.75L213.62 343L225.2 342.75L236.78 342.5L248.35 342.5L259.92 342.5L271.5 342.75" fill="none" stroke="#141414" stroke-width="1.35"/>
<use href="#mx" x="51.58" y="434.25"/>
<use href="#mx" x="63.15" y="415"/>
<use href="#mx" x="74.72" y="400"/>
<use href="#mx" x="86.3" y="387.5"/>
<use href="#mx" x="97.88" y="378"/>
<use href="#mx" x="109.45" y="370"/>
<use href="#mx" x="121.02" y="363.75"/>
<use href="#mx" x="132.6" y="358.25"/>
<use href="#mx" x="144.18" y="353.75"/>
<use href="#mx" x="155.75" y="350"/>
<use href="#mx" x="167.33" y="347.5"/>
<use href="#mx" x="178.9" y="345.75"/>
<use href="#mx" x="190.47" y="344.5"/>
<use href="#mx" x="202.05" y="343.75"/>
<use href="#mx" x="213.62" y="343"/>
<use href="#mx" x="225.2" y="342.75"/>
<use href="#mx" x="236.78" y="342.5"/>
<use href="#mx" x="248.35" y="342.5"/>
<use href="#mx" x="259.92" y="342.5"/>
<use href="#mx" x="271.5" y="342.75"/>
<path d="M51.58 332.5L63.15 335.75L74.72 338.75L86.3 341L97.88 342.75L109.45 344L121.02 345L132.6 345.75L144.18 346.5L155.75 347L167.33 347.29L178.9 347.5L190.47 347.69L202.05 347.86L213.62 348L225.2 348.12L236.78 348.24L248.35 348.34L259.92 348.43L271.5 348.5" fill="none" stroke="#141414" stroke-width="1.35"/>
<use href="#ms" x="51.58" y="332.5"/>
<use href="#ms" x="63.15" y="335.75"/>
<use href="#ms" x="74.72" y="338.75"/>
<use href="#ms" x="86.3" y="341"/>
<use href="#ms" x="97.88" y="342.75"/>
<use href="#ms" x="109.45" y="344"/>
<use href="#ms" x="121.02" y="345"/>
<use href="#ms" x="132.6" y="345.75"/>
<use href="#ms" x="144.18" y="346.5"/>
<use href="#ms" x="155.75" y="347"/>
<use href="#ms" x="167.33" y="347.29"/>
<use href="#ms" x="178.9" y="347.5"/>
<use href="#ms" x="190.47" y="347.69"/>
<use href="#ms" x="202.05" y="347.86"/>
<use href="#ms" x="213.62" y="348"/>
<use href="#ms" x="225.2" y="348.12"/>
<use href="#ms" x="236.78" y="348.24"/>
<use href="#ms" x="248.35" y="348.34"/>
<use href="#ms" x="259.92" y="348.43"/>
<use href="#ms" x="271.5" y="348.5"/>
<rect x="40" y="333.6" width="231.5" height="102.4" fill="none" stroke="#303030" stroke-width="1.1"/>
<text x="39.4" y="454.9" font-size="13.8" text-anchor="middle" fill="#1c1c1c">0</text>
<text x="97.28" y="454.9" font-size="13.8" text-anchor="middle" fill="#1c1c1c">5</text>
<text x="155.15" y="454.9" font-size="13.8" text-anchor="middle" fill="#1c1c1c">10</text>
<text x="213.03" y="454.9" font-size="13.8" text-anchor="middle" fill="#1c1c1c">15</text>
<text x="270.9" y="454.9" font-size="13.8" text-anchor="middle" fill="#1c1c1c">20</text>
<text x="35.6" y="353.7" font-size="13.8" text-anchor="end" fill="#1c1c1c">0</text>
<text x="35.6" y="397.45" font-size="13.8" text-anchor="end" fill="#1c1c1c">-0.05</text>
<text x="35.6" y="440.95" font-size="13.8" text-anchor="end" fill="#1c1c1c">-0.1</text>
<path d="M40 436v-2.4M40 333.6v2.4M97.88 436v-2.4M97.88 333.6v2.4M155.75 436v-2.4M155.75 333.6v2.4M213.62 436v-2.4M213.62 333.6v2.4M271.5 436v-2.4M271.5 333.6v2.4M40 348.75h2.4M271.5 348.75h-2.4M40 392.5h2.4M271.5 392.5h-2.4M40 436h2.4M271.5 436h-2.4" fill="none" stroke="#303030" stroke-width="1"/>
</g>
<g>
<text class="tt" x="461.35" y="327" font-size="15.4" text-anchor="middle" fill="#1c1c1c">Credit</text>
<path d="M357 353L368.59 367.5L380.18 380L391.78 390.5L403.38 398.75L414.97 405.75L426.56 411.75L438.16 416.25L449.75 420L461.35 423L472.94 425L484.54 426.75L496.13 427.75L507.73 428.25L519.32 428.25L530.92 428L542.51 427.25L554.11 426.25L565.7 425L577.3 423.25" fill="none" stroke="#141414" stroke-width="1.35"/>
<use href="#mo" x="357" y="353"/>
<use href="#mo" x="368.59" y="367.5"/>
<use href="#mo" x="380.18" y="380"/>
<use href="#mo" x="391.78" y="390.5"/>
<use href="#mo" x="403.38" y="398.75"/>
<use href="#mo" x="414.97" y="405.75"/>
<use href="#mo" x="426.56" y="411.75"/>
<use href="#mo" x="438.16" y="416.25"/>
<use href="#mo" x="449.75" y="420"/>
<use href="#mo" x="461.35" y="423"/>
<use href="#mo" x="472.94" y="425"/>
<use href="#mo" x="484.54" y="426.75"/>
<use href="#mo" x="496.13" y="427.75"/>
<use href="#mo" x="507.73" y="428.25"/>
<use href="#mo" x="519.32" y="428.25"/>
<use href="#mo" x="530.92" y="428"/>
<use href="#mo" x="542.51" y="427.25"/>
<use href="#mo" x="554.11" y="426.25"/>
<use href="#mo" x="565.7" y="425"/>
<use href="#mo" x="577.3" y="423.25"/>
<path d="M357 342.5L368.59 365L380.18 379.5L391.78 390.75L403.38 399.5L414.97 405.5L426.56 409.25L438.16 410.75L449.75 410.75L461.35 410L472.94 408.5L484.54 406.75L496.13 404.5L507.73 402L519.32 399.5L530.92 396.75L542.51 394L554.11 391L565.7 388L577.3 385.5" fill="none" stroke="#141414" stroke-width="1.35"/>
<use href="#mx" x="357" y="342.5"/>
<use href="#mx" x="368.59" y="365"/>
<use href="#mx" x="380.18" y="379.5"/>
<use href="#mx" x="391.78" y="390.75"/>
<use href="#mx" x="403.38" y="399.5"/>
<use href="#mx" x="414.97" y="405.5"/>
<use href="#mx" x="426.56" y="409.25"/>
<use href="#mx" x="438.16" y="410.75"/>
<use href="#mx" x="449.75" y="410.75"/>
<use href="#mx" x="461.35" y="410"/>
<use href="#mx" x="472.94" y="408.5"/>
<use href="#mx" x="484.54" y="406.75"/>
<use href="#mx" x="496.13" y="404.5"/>
<use href="#mx" x="507.73" y="402"/>
<use href="#mx" x="519.32" y="399.5"/>
<use href="#mx" x="530.92" y="396.75"/>
<use href="#mx" x="542.51" y="394"/>
<use href="#mx" x="554.11" y="391"/>
<use href="#mx" x="565.7" y="388"/>
<use href="#mx" x="577.3" y="385.5"/>
<path d="M357 341.25L368.59 337.5L380.18 335.5L391.78 334L403.38 333.25L414.97 333L426.56 333L438.16 333L449.75 333L461.35 333L472.94 333.18L484.54 333.5L496.13 333.79L507.73 334.12L519.32 334.5L530.92 334.96L542.51 335.49L554.11 336.09L565.7 336.76L577.3 337.5" fill="none" stroke="#141414" stroke-width="1.35"/>
<use href="#ms" x="357" y="341.25"/>
<use href="#ms" x="368.59" y="337.5"/>
<use href="#ms" x="380.18" y="335.5"/>
<use href="#ms" x="391.78" y="334"/>
<use href="#ms" x="403.38" y="333.25"/>
<use href="#ms" x="414.97" y="333"/>
<use href="#ms" x="426.56" y="333"/>
<use href="#ms" x="438.16" y="333"/>
<use href="#ms" x="449.75" y="333"/>
<use href="#ms" x="461.35" y="333"/>
<use href="#ms" x="472.94" y="333.18"/>
<use href="#ms" x="484.54" y="333.5"/>
<use href="#ms" x="496.13" y="333.79"/>
<use href="#ms" x="507.73" y="334.12"/>
<use href="#ms" x="519.32" y="334.5"/>
<use href="#ms" x="530.92" y="334.96"/>
<use href="#ms" x="542.51" y="335.49"/>
<use href="#ms" x="554.11" y="336.09"/>
<use href="#ms" x="565.7" y="336.76"/>
<use href="#ms" x="577.3" y="337.5"/>
<rect x="345.4" y="333.6" width="231.9" height="102.4" fill="none" stroke="#303030" stroke-width="1.1"/>
<text x="345.6" y="454.9" font-size="13.8" text-anchor="middle" fill="#1c1c1c">0</text>
<text x="403.57" y="454.9" font-size="13.8" text-anchor="middle" fill="#1c1c1c">5</text>
<text x="461.55" y="454.9" font-size="13.8" text-anchor="middle" fill="#1c1c1c">10</text>
<text x="519.52" y="454.9" font-size="13.8" text-anchor="middle" fill="#1c1c1c">15</text>
<text x="577.5" y="454.9" font-size="13.8" text-anchor="middle" fill="#1c1c1c">20</text>
<text x="341" y="350.7" font-size="13.8" text-anchor="end" fill="#1c1c1c">0</text>
<text x="341" y="395.95" font-size="13.8" text-anchor="end" fill="#1c1c1c">-0.2</text>
<text x="341" y="440.95" font-size="13.8" text-anchor="end" fill="#1c1c1c">-0.4</text>
<path d="M345.4 436v-2.4M345.4 333.6v2.4M403.38 436v-2.4M403.38 333.6v2.4M461.35 436v-2.4M461.35 333.6v2.4M519.32 436v-2.4M519.32 333.6v2.4M577.3 436v-2.4M577.3 333.6v2.4M345.4 345.75h2.4M577.3 345.75h-2.4M345.4 391h2.4M577.3 391h-2.4M345.4 436h2.4M577.3 436h-2.4" fill="none" stroke="#303030" stroke-width="1"/>
</g>
<g>
<text class="tt" x="791.15" y="329.1" font-size="16.9" text-anchor="middle" fill="#1c1c1c">Default Rate</text>
<path d="M677.95 418.75L689.51 339.8L701.06 348.25L712.62 356.75L724.17 363.75L735.73 370L747.28 375.5L758.84 380.75L770.39 385L781.95 388.75L793.5 392L805.06 395L816.62 397.75L828.17 400L839.73 402.25L851.28 404.25L862.84 406L874.39 407.5L885.94 408.75L897.5 410" fill="none" stroke="#141414" stroke-width="1.35"/>
<use href="#mo" x="677.95" y="418.75"/>
<use href="#mo" x="689.51" y="339.8"/>
<use href="#mo" x="701.06" y="348.25"/>
<use href="#mo" x="712.62" y="356.75"/>
<use href="#mo" x="724.17" y="363.75"/>
<use href="#mo" x="735.73" y="370"/>
<use href="#mo" x="747.28" y="375.5"/>
<use href="#mo" x="758.84" y="380.75"/>
<use href="#mo" x="770.39" y="385"/>
<use href="#mo" x="781.95" y="388.75"/>
<use href="#mo" x="793.5" y="392"/>
<use href="#mo" x="805.06" y="395"/>
<use href="#mo" x="816.62" y="397.75"/>
<use href="#mo" x="828.17" y="400"/>
<use href="#mo" x="839.73" y="402.25"/>
<use href="#mo" x="851.28" y="404.25"/>
<use href="#mo" x="862.84" y="406"/>
<use href="#mo" x="874.39" y="407.5"/>
<use href="#mo" x="885.94" y="408.75"/>
<use href="#mo" x="897.5" y="410"/>
<path d="M677.95 401.25L689.51 412L701.06 418.75L712.62 425L724.17 430L735.73 433.25L747.28 435.25L758.84 436.25L770.39 436.5L781.95 436.5L793.5 436.25L805.06 435.75L816.62 435.25L828.17 434.5L839.73 433.75L851.28 432.75L862.84 431.75L874.39 430.75L885.94 430L897.5 429" fill="none" stroke="#141414" stroke-width="1.35"/>
<use href="#mx" x="677.95" y="401.25"/>
<use href="#mx" x="689.51" y="412"/>
<use href="#mx" x="701.06" y="418.75"/>
<use href="#mx" x="712.62" y="425"/>
<use href="#mx" x="724.17" y="430"/>
<use href="#mx" x="735.73" y="433.25"/>
<use href="#mx" x="747.28" y="435.25"/>
<use href="#mx" x="758.84" y="436.25"/>
<use href="#mx" x="770.39" y="436.5"/>
<use href="#mx" x="781.95" y="436.5"/>
<use href="#mx" x="793.5" y="436.25"/>
<use href="#mx" x="805.06" y="435.75"/>
<use href="#mx" x="816.62" y="435.25"/>
<use href="#mx" x="828.17" y="434.5"/>
<use href="#mx" x="839.73" y="433.75"/>
<use href="#mx" x="851.28" y="432.75"/>
<use href="#mx" x="862.84" y="431.75"/>
<use href="#mx" x="874.39" y="430.75"/>
<use href="#mx" x="885.94" y="430"/>
<use href="#mx" x="897.5" y="429"/>
<path d="M677.95 418.75L689.51 417.5L701.06 416.5L712.62 415.83L724.17 415.5L735.73 415.5L747.28 415.5L758.84 415.5L770.39 415.5L781.95 415.5L793.5 415.54L805.06 415.63L816.62 415.75L828.17 415.88L839.73 416L851.28 416.1L862.84 416.2L874.39 416.3L885.94 416.4L897.5 416.5" fill="none" stroke="#141414" stroke-width="1.35"/>
<use href="#ms" x="677.95" y="418.75"/>
<use href="#ms" x="689.51" y="417.5"/>
<use href="#ms" x="701.06" y="416.5"/>
<use href="#ms" x="712.62" y="415.83"/>
<use href="#ms" x="724.17" y="415.5"/>
<use href="#ms" x="735.73" y="415.5"/>
<use href="#ms" x="747.28" y="415.5"/>
<use href="#ms" x="758.84" y="415.5"/>
<use href="#ms" x="770.39" y="415.5"/>
<use href="#ms" x="781.95" y="415.5"/>
<use href="#ms" x="793.5" y="415.54"/>
<use href="#ms" x="805.06" y="415.63"/>
<use href="#ms" x="816.62" y="415.75"/>
<use href="#ms" x="828.17" y="415.88"/>
<use href="#ms" x="839.73" y="416"/>
<use href="#ms" x="851.28" y="416.1"/>
<use href="#ms" x="862.84" y="416.2"/>
<use href="#ms" x="874.39" y="416.3"/>
<use href="#ms" x="885.94" y="416.4"/>
<use href="#ms" x="897.5" y="416.5"/>
<rect x="666.4" y="339.8" width="231.1" height="96.45" fill="none" stroke="#303030" stroke-width="1.1"/>
<text x="667.3" y="455.15" font-size="13.8" text-anchor="middle" fill="#1c1c1c">0</text>
<text x="725.07" y="455.15" font-size="13.8" text-anchor="middle" fill="#1c1c1c">5</text>
<text x="782.85" y="455.15" font-size="13.8" text-anchor="middle" fill="#1c1c1c">10</text>
<text x="840.62" y="455.15" font-size="13.8" text-anchor="middle" fill="#1c1c1c">15</text>
<text x="898.4" y="455.15" font-size="13.8" text-anchor="middle" fill="#1c1c1c">20</text>
<text x="662" y="348.95" font-size="13.8" text-anchor="end" fill="#1c1c1c">3</text>
<text x="662" y="373.95" font-size="13.8" text-anchor="end" fill="#1c1c1c">2</text>
<text x="662" y="398.95" font-size="13.8" text-anchor="end" fill="#1c1c1c">1</text>
<text x="662" y="423.95" font-size="13.8" text-anchor="end" fill="#1c1c1c">0</text>
<path d="M666.4 436.25v-2.4M666.4 339.8v2.4M724.17 436.25v-2.4M724.17 339.8v2.4M781.95 436.25v-2.4M781.95 339.8v2.4M839.73 436.25v-2.4M839.73 339.8v2.4M897.5 436.25v-2.4M897.5 339.8v2.4M666.4 344h2.4M897.5 344h-2.4M666.4 369h2.4M897.5 369h-2.4M666.4 394h2.4M897.5 394h-2.4M666.4 419h2.4M897.5 419h-2.4" fill="none" stroke="#303030" stroke-width="1"/>
<text x="666.5" y="336.25" font-size="12.4" fill="#1c1c1c"><tspan fill="#777" stroke="none" font-size="15" dy="1.6">×</tspan><tspan dx="2.9" dy="-1.6">10</tspan><tspan font-size="10.5" dy="-6.6" dx="1.2">-3</tspan></text>
</g>
<g>
<text class="tt" x="1089.25" y="330" font-size="15.8" text-anchor="middle" fill="#1c1c1c">Financial Wedge</text>
<path d="M983.58 408L995.15 411.25L1006.73 414.25L1018.3 416.75L1029.88 419L1041.45 421L1053.03 422.75L1064.6 424.5L1076.17 426L1087.75 427.5L1099.33 428.75L1110.9 429.75L1122.47 430.75L1134.05 431.5L1145.62 432.25L1157.2 432.75L1168.78 433.25L1180.35 433.75L1191.92 434L1203.5 434.25" fill="none" stroke="#141414" stroke-width="1.35"/>
<use href="#mo" x="983.58" y="408"/>
<use href="#mo" x="995.15" y="411.25"/>
<use href="#mo" x="1006.73" y="414.25"/>
<use href="#mo" x="1018.3" y="416.75"/>
<use href="#mo" x="1029.88" y="419"/>
<use href="#mo" x="1041.45" y="421"/>
<use href="#mo" x="1053.03" y="422.75"/>
<use href="#mo" x="1064.6" y="424.5"/>
<use href="#mo" x="1076.17" y="426"/>
<use href="#mo" x="1087.75" y="427.5"/>
<use href="#mo" x="1099.33" y="428.75"/>
<use href="#mo" x="1110.9" y="429.75"/>
<use href="#mo" x="1122.47" y="430.75"/>
<use href="#mo" x="1134.05" y="431.5"/>
<use href="#mo" x="1145.62" y="432.25"/>
<use href="#mo" x="1157.2" y="432.75"/>
<use href="#mo" x="1168.78" y="433.25"/>
<use href="#mo" x="1180.35" y="433.75"/>
<use href="#mo" x="1191.92" y="434"/>
<use href="#mo" x="1203.5" y="434.25"/>
<path d="M983.58 339.5L995.15 357L1006.73 371.75L1018.3 384.25L1029.88 394.25L1041.45 402L1053.03 408.25L1064.6 413.75L1076.17 418L1087.75 421.75L1099.33 425L1110.9 427.5L1122.47 429.5L1134.05 431L1145.62 432.25L1157.2 433.25L1168.78 434L1180.35 434.5L1191.92 435L1203.5 435.25" fill="none" stroke="#141414" stroke-width="1.35"/>
<use href="#mx" x="983.58" y="339.5"/>
<use href="#mx" x="995.15" y="357"/>
<use href="#mx" x="1006.73" y="371.75"/>
<use href="#mx" x="1018.3" y="384.25"/>
<use href="#mx" x="1029.88" y="394.25"/>
<use href="#mx" x="1041.45" y="402"/>
<use href="#mx" x="1053.03" y="408.25"/>
<use href="#mx" x="1064.6" y="413.75"/>
<use href="#mx" x="1076.17" y="418"/>
<use href="#mx" x="1087.75" y="421.75"/>
<use href="#mx" x="1099.33" y="425"/>
<use href="#mx" x="1110.9" y="427.5"/>
<use href="#mx" x="1122.47" y="429.5"/>
<use href="#mx" x="1134.05" y="431"/>
<use href="#mx" x="1145.62" y="432.25"/>
<use href="#mx" x="1157.2" y="433.25"/>
<use href="#mx" x="1168.78" y="434"/>
<use href="#mx" x="1180.35" y="434.5"/>
<use href="#mx" x="1191.92" y="435"/>
<use href="#mx" x="1203.5" y="435.25"/>
<path d="M983.58 436L995.15 436L1006.73 436L1018.3 436L1029.88 436L1041.45 436L1053.03 436L1064.6 436L1076.17 436L1087.75 436L1099.33 436L1110.9 436L1122.47 436L1134.05 436L1145.62 436L1157.2 436L1168.78 436L1180.35 436L1191.92 436L1203.5 436" fill="none" stroke="#141414" stroke-width="1.35"/>
<use href="#ms" x="983.58" y="436"/>
<use href="#ms" x="995.15" y="436"/>
<use href="#ms" x="1006.73" y="436"/>
<use href="#ms" x="1018.3" y="436"/>
<use href="#ms" x="1029.88" y="436"/>
<use href="#ms" x="1041.45" y="436"/>
<use href="#ms" x="1053.03" y="436"/>
<use href="#ms" x="1064.6" y="436"/>
<use href="#ms" x="1076.17" y="436"/>
<use href="#ms" x="1087.75" y="436"/>
<use href="#ms" x="1099.33" y="436"/>
<use href="#ms" x="1110.9" y="436"/>
<use href="#ms" x="1122.47" y="436"/>
<use href="#ms" x="1134.05" y="436"/>
<use href="#ms" x="1145.62" y="436"/>
<use href="#ms" x="1157.2" y="436"/>
<use href="#ms" x="1168.78" y="436"/>
<use href="#ms" x="1180.35" y="436"/>
<use href="#ms" x="1191.92" y="436"/>
<use href="#ms" x="1203.5" y="436"/>
<rect x="972" y="339.5" width="231.5" height="96.75" fill="none" stroke="#303030" stroke-width="1.1"/>
<text x="972.3" y="455.15" font-size="13.8" text-anchor="middle" fill="#1c1c1c">0</text>
<text x="1030.17" y="455.15" font-size="13.8" text-anchor="middle" fill="#1c1c1c">5</text>
<text x="1088.05" y="455.15" font-size="13.8" text-anchor="middle" fill="#1c1c1c">10</text>
<text x="1145.92" y="455.15" font-size="13.8" text-anchor="middle" fill="#1c1c1c">15</text>
<text x="1203.8" y="455.15" font-size="13.8" text-anchor="middle" fill="#1c1c1c">20</text>
<text x="967.6" y="346.45" font-size="13.8" text-anchor="end" fill="#1c1c1c">0.01</text>
<text x="967.6" y="394.45" font-size="13.8" text-anchor="end" fill="#1c1c1c">0.005</text>
<text x="967.6" y="441.65" font-size="13.8" text-anchor="end" fill="#1c1c1c">0</text>
<path d="M972 436.25v-2.4M972 339.5v2.4M1029.88 436.25v-2.4M1029.88 339.5v2.4M1087.75 436.25v-2.4M1087.75 339.5v2.4M1145.62 436.25v-2.4M1145.62 339.5v2.4M1203.5 436.25v-2.4M1203.5 339.5v2.4M972 341.5h2.4M1203.5 341.5h-2.4M972 389.5h2.4M1203.5 389.5h-2.4M972 436.7h2.4M1203.5 436.7h-2.4" fill="none" stroke="#303030" stroke-width="1"/>
</g>
<g>
<path d="M304.5 484.5H366" stroke="#141414" stroke-width="1.3" fill="none"/><use href="#mo2" x="335.25" y="484.5"/><text class="lg" x="372.4" y="491.3" font-size="17" fill="#1c1c1c">savings. shock</text>
<path d="M545.5 485.25H611" stroke="#141414" stroke-width="1.3" fill="none"/><use href="#mx2" x="578.25" y="485.25"/><text class="lg" x="616.8" y="492.3" font-size="17.6" fill="#1c1c1c">risk. shock</text>
<path d="M761 485.25H824" stroke="#141414" stroke-width="1.3" fill="none"/><use href="#ms2" x="792.5" y="485.25"/><text class="lg" x="829.3" y="492.3" font-size="17" fill="#1c1c1c">tech. shock</text>
</g>
</g>
</svg>
</body>
</html>
